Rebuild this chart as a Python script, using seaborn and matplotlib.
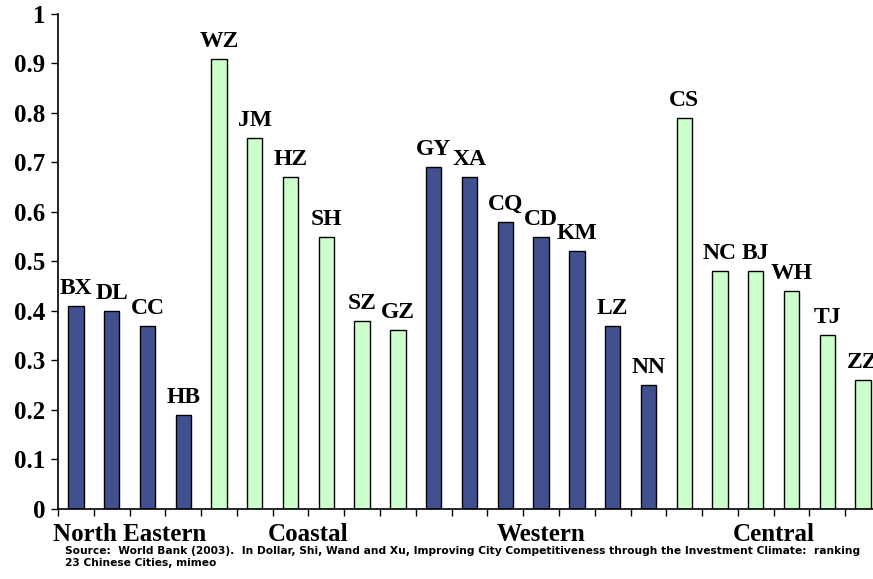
import matplotlib
matplotlib.use("Agg")
import matplotlib.pyplot as plt
import seaborn as sns
import pandas as pd
from matplotlib.ticker import FuncFormatter, FixedLocator

# City competitiveness rankings, grouped by region
cities = ["BX", "DL", "CC", "HB",
          "WZ", "JM", "HZ", "SH", "SZ", "GZ",
          "GY", "XA", "CQ", "CD", "KM", "LZ", "NN",
          "CS", "NC", "BJ", "WH", "TJ", "ZZ"]
scores = [0.41, 0.40, 0.37, 0.19,
          0.91, 0.75, 0.67, 0.55, 0.38, 0.36,
          0.69, 0.67, 0.58, 0.55, 0.52, 0.37, 0.25,
          0.79, 0.48, 0.48, 0.44, 0.35, 0.26]
regions = ["North Eastern"] * 4 + ["Coastal"] * 6 + ["Western"] * 7 + ["Central"] * 6
region_names = ["North Eastern", "Coastal", "Western", "Central"]
region_colors = {"North Eastern": "#41518f", "Coastal": "#ccffcc",
                 "Western": "#41518f", "Central": "#ccffcc"}
y_ticks = [0, 0.1, 0.2, 0.3, 0.4, 0.5, 0.6, 0.7, 0.8, 0.9, 1.0]
source_text = ("Source:  World Bank (2003).  In Dollar, Shi, Wand and Xu, Improving City "
               "Competitiveness through the Investment Climate:  ranking\n23 Chinese Cities, mimeo")

df = pd.DataFrame({"city": cities, "score": scores, "region": regions})

sns.set_style("white")
plt.rcParams.update({"text.color": "black", "xtick.color": "black",
                     "ytick.color": "black", "axes.labelcolor": "black"})
serif = ["Liberation Serif", "DejaVu Serif"]

fig = plt.figure(figsize=(8.73, 5.79), dpi=100)
ax = fig.add_axes([58 / 873, 1 - 508.5 / 579, (881 - 58) / 873, (508.5 - 14) / 579])

sns.barplot(data=df, x="city", y="score", hue="region", hue_order=region_names,
            palette=region_colors, dodge=False, width=0.43, order=cities,
            saturation=1, edgecolor="black", linewidth=1.0, legend=False, ax=ax)

ax.set_xlim(-0.5, len(cities) - 0.5)
ax.set_ylim(0, 1)

# Category boundaries as x ticks, no tick labels
ax.xaxis.set_major_locator(FixedLocator([i - 0.5 for i in range(len(cities) + 1)]))
ax.set_xticklabels([])
ax.set_xlabel("")
ax.set_ylabel("")

ax.yaxis.set_major_locator(FixedLocator(y_ticks))
ax.yaxis.set_major_formatter(FuncFormatter(lambda v, p: f"{v:g}"))
for lab in ax.get_yticklabels():
    lab.set_fontfamily(serif)
    lab.set_fontweight("bold")
    lab.set_fontsize(18)
    lab.set_color("black")

ax.tick_params(axis="both", direction="out", length=5, width=1, color="black",
               labelcolor="black", left=True, bottom=True, pad=4)
for side in ("top", "right"):
    ax.spines[side].set_visible(False)
for side in ("left", "bottom"):
    ax.spines[side].set_color("black")
    ax.spines[side].set_linewidth(1.2)

# City labels above each bar
for i, (c, v) in enumerate(zip(cities, scores)):
    ax.annotate(c, xy=(i, v), xytext=(0, 12), textcoords="offset pixels",
                ha="center", va="baseline", fontsize=17, fontweight="bold",
                family=serif, color="black", annotation_clip=False)

# Region names centred under each group
start = 0
for name in region_names:
    n = regions.count(name)
    center = start + (n - 1) / 2
    ax.text(center, -0.053, name, transform=ax.get_xaxis_transform(),
            ha="center", va="center", fontsize=18, fontweight="bold",
            family=serif, color="black")
    start += n

fig.text(65 / 873, 1 - 546 / 579, source_text, ha="left", va="top", color="black",
         fontsize=7.7, fontweight="bold", family=["DejaVu Sans"], linespacing=1.2)

fig.savefig("out.png", dpi=100, facecolor="white")
